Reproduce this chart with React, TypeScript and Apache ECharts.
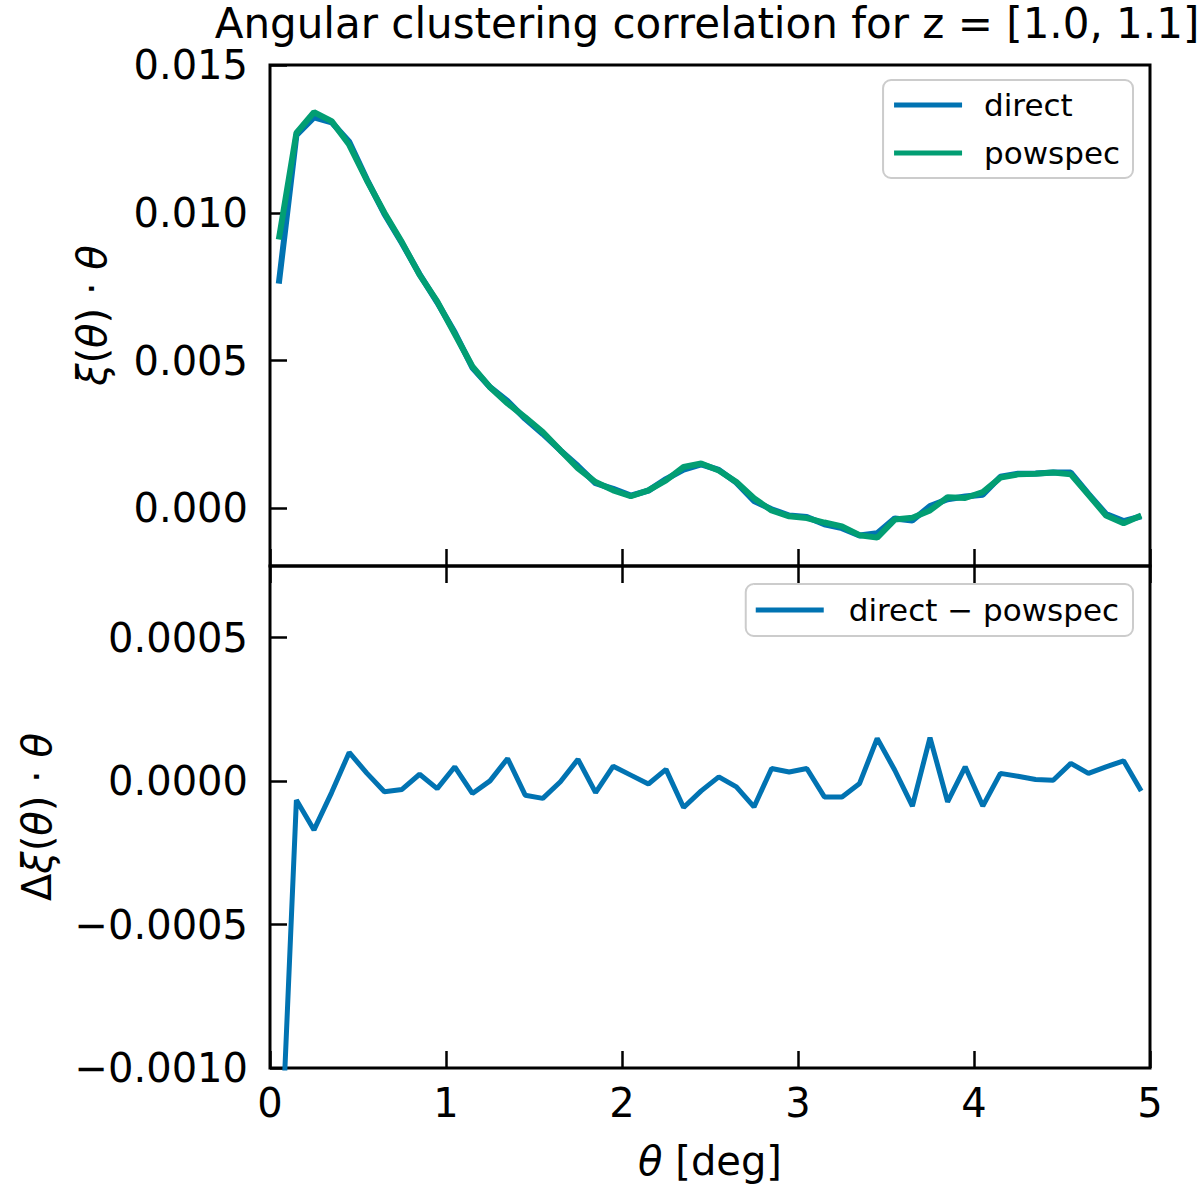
import React, { useEffect, useRef } from "react";
import * as echarts from "echarts";

const TITLE = "Angular clustering correlation for z = [1.0, 1.1]";

const theta = [
  0.05, 0.15, 0.25, 0.35, 0.45, 0.55, 0.65, 0.75, 0.85, 0.95,
  1.05, 1.15, 1.25, 1.35, 1.45, 1.55, 1.65, 1.75, 1.85, 1.95,
  2.05, 2.15, 2.25, 2.35, 2.45, 2.55, 2.65, 2.75, 2.85, 2.95,
  3.05, 3.15, 3.25, 3.35, 3.45, 3.55, 3.65, 3.75, 3.85, 3.95,
  4.05, 4.15, 4.25, 4.35, 4.45, 4.55, 4.65, 4.75, 4.85, 4.95,
];

const powspec = [
  0.0091, 0.0127, 0.0134, 0.0131, 0.0123, 0.0111, 0.01, 0.009, 0.0079, 0.007,
  0.0059, 0.0048, 0.0041, 0.00355, 0.00308, 0.00258, 0.00196, 0.00135, 0.00089, 0.00061,
  0.00041, 0.00061, 0.00095, 0.0014, 0.00152, 0.00128, 0.00089, 0.00034, -0.00007, -0.00027,
  -0.00033, -0.00048, -0.00061, -0.00091, -0.00099, -0.00038, -0.00032, -0.00007, 0.00038, 0.00035,
  0.00055, 0.00104, 0.00115, 0.00117, 0.00121, 0.00115, 0.00046, -0.00024, -0.0005, -0.00024,
];

const direct = [
  0.0076, 0.01263, 0.01323, 0.01306, 0.0124, 0.01113, 0.00996, 0.00897, 0.00792, 0.00697,
  0.00595, 0.00476, 0.0041, 0.00363, 0.00303, 0.00252, 0.00196, 0.00143, 0.00085, 0.00066,
  0.00043, 0.0006, 0.00099, 0.00131, 0.00149, 0.0013, 0.00087, 0.00025, -0.00003, -0.00024,
  -0.00029, -0.00054, -0.00067, -0.00092, -0.00084, -0.00034, -0.00041, 0.00008, 0.00031, 0.0004,
  0.00046, 0.00107, 0.00117, 0.00118, 0.00121, 0.00121, 0.00049, -0.00019, -0.00043, -0.00027,
];

const diff = [
  -0.0015, -0.000066, -0.00017, -0.00004, 0.0001, 0.000028, -0.000037, -0.000029, 0.000024, -0.000026,
  0.00005, -0.000043, 0.000001, 0.000079, -0.000049, -0.00006, -0.000002, 0.000076, -0.00004, 0.000052,
  0.000021, -0.00001, 0.000041, -0.000092, -0.000034, 0.000015, -0.00002, -0.00009, 0.000044, 0.000032,
  0.000044, -0.000055, -0.000055, -0.000008, 0.000149, 0.000038, -0.000087, 0.000152, -0.000072, 0.00005,
  -0.000087, 0.000027, 0.000017, 0.000006, 0.000003, 0.000062, 0.000027, 0.00005, 0.000071, -0.000034,
];

const topYTicks = [0, 0.005, 0.01, 0.015];
const topYLabels = ["0.000", "0.005", "0.010", "0.015"];
const botYTicks = [-0.001, -0.0005, 0, 0.0005];
const botYLabels = ["\u22120.0010", "\u22120.0005", "0.0000", "0.0005"];
const xTicks = [0, 1, 2, 3, 4, 5];

const FONT = "DejaVu Sans";
const BLUE = "#0173b2";
const GREEN = "#029e73";

function lookup(ticks: number[], labels: string[]) {
  return (v: number) => {
    for (let i = 0; i < ticks.length; i++) {
      if (Math.abs(ticks[i] - v) < 1e-9) return labels[i];
    }
    return "";
  };
}

export default function App() {
  const ref = useRef<HTMLDivElement>(null);

  useEffect(() => {
    if (!ref.current) return;
    const chart = echarts.init(ref.current, null, { renderer: "svg" });

    const tick = (inside = true) => ({
      show: true,
      inside,
      length: 17,
      lineStyle: { color: "#000", width: 2.5 },
    });
    const noLine = { show: false, onZero: false };
    const labelStyle = { fontSize: 40, fontFamily: FONT, color: "#000" };
    const rich = { i: { fontStyle: "italic", fontSize: 40, fontFamily: FONT, color: "#000" } };

    const option: any = {
      animation: false,
      backgroundColor: "#fff",
      graphic: [
        {
          type: "text",
          x: 707,
          y: 23,
          style: {
            text: TITLE,
            font: `42px "${FONT}"`,
            fill: "#000",
            textAlign: "center",
            textVerticalAlign: "middle",
          },
        },
      ],
      grid: [
        { left: 270, top: 65, width: 880, height: 501, show: true, borderColor: "#000", borderWidth: 3, backgroundColor: "transparent" },
        { left: 270, top: 566, width: 880, height: 502, show: true, borderColor: "#000", borderWidth: 3, backgroundColor: "transparent" },
      ],
      xAxis: [
        {
          type: "value", gridIndex: 0, min: 0, max: 5, interval: 1,
          axisLine: noLine, axisTick: tick(), axisLabel: { show: false }, splitLine: { show: false },
        },
        {
          type: "value", gridIndex: 1, min: 0, max: 5, interval: 1, position: "bottom",
          axisLine: noLine, axisTick: tick(),
          axisLabel: { ...labelStyle, margin: 15, customValues: xTicks, formatter: (v: number) => String(v) },
          splitLine: { show: false },
          name: "{i|θ} [deg]", nameLocation: "middle", nameGap: 73,
          nameTextStyle: { ...labelStyle, rich },
        },
        {
          type: "value", gridIndex: 1, min: 0, max: 5, interval: 1, position: "top",
          axisLine: noLine, axisTick: tick(), axisLabel: { show: false }, splitLine: { show: false },
        },
      ],
      yAxis: [
        {
          type: "value", gridIndex: 0, min: -0.00195, max: 0.015,
          axisLine: noLine,
          axisTick: { ...tick(), customValues: topYTicks },
          axisLabel: { ...labelStyle, margin: 22, customValues: topYTicks, formatter: lookup(topYTicks, topYLabels) },
          splitLine: { show: false },
          name: "{i|ξ}({i|θ}) · {i|θ}", nameLocation: "middle", nameGap: 158,
          nameTextStyle: { ...labelStyle, rich },
        },
        {
          type: "value", gridIndex: 1, min: -0.001, max: 0.00075,
          axisLine: noLine,
          axisTick: { ...tick(), customValues: botYTicks },
          axisLabel: { ...labelStyle, margin: 22, customValues: botYTicks, formatter: lookup(botYTicks, botYLabels) },
          splitLine: { show: false },
          name: "Δ{i|ξ}({i|θ}) · {i|θ}", nameLocation: "middle", nameGap: 213,
          nameTextStyle: { ...labelStyle, rich },
        },
      ],
      legend: [
        {
          data: ["direct", "powspec"],
          orient: "vertical",
          right: 67,
          top: 80,
          icon: "rect",
          itemWidth: 68,
          itemHeight: 5,
          itemGap: 10,
          padding: [6, 13, 6, 11],
          backgroundColor: "rgba(255,255,255,0.8)",
          borderColor: "#cccccc",
          borderWidth: 2,
          borderRadius: 8,
          textStyle: { fontSize: 31, fontFamily: FONT, color: "#000", lineHeight: 38, padding: [0, 0, 0, 17] },
        },
        {
          data: ["direct \u2212 powspec"],
          orient: "vertical",
          right: 67,
          top: 584,
          icon: "rect",
          itemWidth: 68,
          itemHeight: 5,
          padding: [7, 14, 7, 10],
          backgroundColor: "rgba(255,255,255,0.8)",
          borderColor: "#cccccc",
          borderWidth: 2,
          borderRadius: 8,
          textStyle: { fontSize: 31, fontFamily: FONT, color: "#000", lineHeight: 38, padding: [0, 0, 0, 20] },
        },
      ],
      series: [
        {
          name: "direct", type: "line", xAxisIndex: 0, yAxisIndex: 0, symbol: "none",
          data: theta.map((t, i) => [t, direct[i]]),
          lineStyle: { color: BLUE, width: 6 }, itemStyle: { color: BLUE },
        },
        {
          name: "powspec", type: "line", xAxisIndex: 0, yAxisIndex: 0, symbol: "none",
          data: theta.map((t, i) => [t, powspec[i]]),
          lineStyle: { color: GREEN, width: 6 }, itemStyle: { color: GREEN },
        },
        {
          name: "direct \u2212 powspec", type: "line", xAxisIndex: 1, yAxisIndex: 1, symbol: "none",
          data: theta.map((t, i) => [t, diff[i]]),
          lineStyle: { color: BLUE, width: 5 }, itemStyle: { color: BLUE },
          clip: true,
        },
      ],
    };

    chart.setOption(option);
    return () => chart.dispose();
  }, []);

  return (
    <div
      ref={ref}
      style={{ position: "absolute", left: 0, top: 0, width: 1200, height: 1190, background: "#fff" }}
    />
  );
}
